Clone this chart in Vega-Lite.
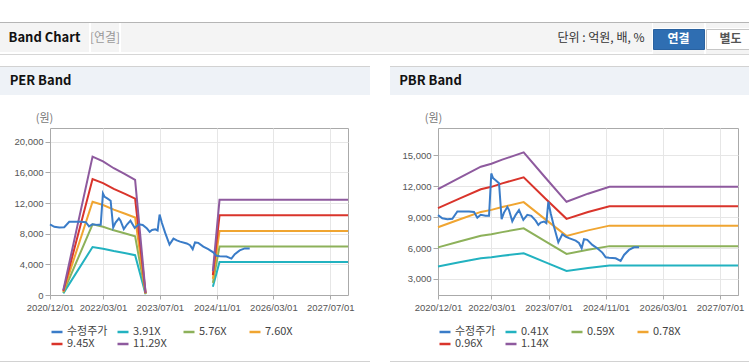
{
  "$schema": "https://vega.github.io/schema/vega-lite/v6.json",
  "padding": {"left": 0, "top": 22, "right": 0, "bottom": 0},
  "background": "#ffffff",
  "config": {
    "view": {"stroke": "#aaaaaa"},
    "axis": {"domainColor": "#aaaaaa", "tickColor": "#aaaaaa", "gridColor": "#e6e6e6", "labelColor": "#555555", "labelFont": "Liberation Sans", "labelFontSize": 9.5}
  },
  "datasets": {
    "price": [
      {"d": "2020-12-01", "v": 9200}, {"d": "2021-01-07", "v": 8900}, {"d": "2021-02-19", "v": 8800}, {"d": "2021-04-02", "v": 8850},
      {"d": "2021-05-15", "v": 9550}, {"d": "2021-06-26", "v": 9550}, {"d": "2021-08-22", "v": 9550}, {"d": "2021-10-04", "v": 9500},
      {"d": "2021-11-01", "v": 8950}, {"d": "2021-11-30", "v": 9230}, {"d": "2022-01-11", "v": 9150}, {"d": "2022-02-09", "v": 9150},
      {"d": "2022-02-28", "v": 13250}, {"d": "2022-03-15", "v": 12800}, {"d": "2022-04-06", "v": 12600}, {"d": "2022-05-05", "v": 12300},
      {"d": "2022-05-27", "v": 8800}, {"d": "2022-06-16", "v": 9450}, {"d": "2022-07-15", "v": 10000}, {"d": "2022-07-29", "v": 9700},
      {"d": "2022-08-26", "v": 8600}, {"d": "2022-09-24", "v": 9230}, {"d": "2022-10-22", "v": 9700}, {"d": "2022-11-28", "v": 8750},
      {"d": "2023-01-01", "v": 9230}, {"d": "2023-02-04", "v": 9130}, {"d": "2023-03-13", "v": 8670}, {"d": "2023-04-05", "v": 8250},
      {"d": "2023-04-25", "v": 8480}, {"d": "2023-05-23", "v": 8580}, {"d": "2023-06-12", "v": 8420}, {"d": "2023-06-29", "v": 10500},
      {"d": "2023-07-19", "v": 9390}, {"d": "2023-08-16", "v": 8100}, {"d": "2023-09-22", "v": 6570}, {"d": "2023-10-26", "v": 7350},
      {"d": "2023-11-24", "v": 7120}, {"d": "2023-12-22", "v": 6960}, {"d": "2024-02-17", "v": 6730}, {"d": "2024-03-16", "v": 6500},
      {"d": "2024-04-08", "v": 5980}, {"d": "2024-04-28", "v": 6860}, {"d": "2024-05-26", "v": 6800}, {"d": "2024-07-08", "v": 6310},
      {"d": "2024-08-19", "v": 5980}, {"d": "2024-10-01", "v": 5560}, {"d": "2024-10-30", "v": 5110}, {"d": "2024-11-27", "v": 5050},
      {"d": "2025-01-23", "v": 5010}, {"d": "2025-03-06", "v": 4750}, {"d": "2025-04-04", "v": 5330}, {"d": "2025-05-16", "v": 5820},
      {"d": "2025-06-28", "v": 6080}, {"d": "2025-08-10", "v": 6080}
    ],
    "per": [
      {"d": "2021-03-25", "s": "3.91X", "g": 1, "v": 215}, {"d": "2021-12-01", "s": "3.91X", "g": 1, "v": 6256}, {"d": "2022-03-01", "s": "3.91X", "g": 1, "v": 6041}, {"d": "2022-06-01", "s": "3.91X", "g": 1, "v": 5728}, {"d": "2022-09-01", "s": "3.91X", "g": 1, "v": 5474}, {"d": "2022-12-01", "s": "3.91X", "g": 1, "v": 5200}, {"d": "2023-03-01", "s": "3.91X", "g": 1, "v": 98},
      {"d": "2024-09-28", "s": "3.91X", "g": 2, "v": 1075}, {"d": "2024-11-24", "s": "3.91X", "g": 2, "v": 4301}, {"d": "2027-12-01", "s": "3.91X", "g": 2, "v": 4301},
      {"d": "2021-03-25", "s": "5.76X", "g": 1, "v": 317}, {"d": "2021-12-01", "s": "5.76X", "g": 1, "v": 9216}, {"d": "2022-03-01", "s": "5.76X", "g": 1, "v": 8899}, {"d": "2022-06-01", "s": "5.76X", "g": 1, "v": 8438}, {"d": "2022-09-01", "s": "5.76X", "g": 1, "v": 8064}, {"d": "2022-12-01", "s": "5.76X", "g": 1, "v": 7661}, {"d": "2023-03-01", "s": "5.76X", "g": 1, "v": 144},
      {"d": "2024-09-28", "s": "5.76X", "g": 2, "v": 1584}, {"d": "2024-11-24", "s": "5.76X", "g": 2, "v": 6336}, {"d": "2027-12-01", "s": "5.76X", "g": 2, "v": 6336},
      {"d": "2021-03-25", "s": "7.60X", "g": 1, "v": 418}, {"d": "2021-12-01", "s": "7.60X", "g": 1, "v": 12160}, {"d": "2022-03-01", "s": "7.60X", "g": 1, "v": 11742}, {"d": "2022-06-01", "s": "7.60X", "g": 1, "v": 11134}, {"d": "2022-09-01", "s": "7.60X", "g": 1, "v": 10640}, {"d": "2022-12-01", "s": "7.60X", "g": 1, "v": 10108}, {"d": "2023-03-01", "s": "7.60X", "g": 1, "v": 190},
      {"d": "2024-09-28", "s": "7.60X", "g": 2, "v": 2090}, {"d": "2024-11-24", "s": "7.60X", "g": 2, "v": 8360}, {"d": "2027-12-01", "s": "7.60X", "g": 2, "v": 8360},
      {"d": "2021-03-25", "s": "9.45X", "g": 1, "v": 520}, {"d": "2021-12-01", "s": "9.45X", "g": 1, "v": 15120}, {"d": "2022-03-01", "s": "9.45X", "g": 1, "v": 14600}, {"d": "2022-06-01", "s": "9.45X", "g": 1, "v": 13844}, {"d": "2022-09-01", "s": "9.45X", "g": 1, "v": 13230}, {"d": "2022-12-01", "s": "9.45X", "g": 1, "v": 12569}, {"d": "2023-03-01", "s": "9.45X", "g": 1, "v": 236},
      {"d": "2024-09-28", "s": "9.45X", "g": 2, "v": 2599}, {"d": "2024-11-24", "s": "9.45X", "g": 2, "v": 10395}, {"d": "2027-12-01", "s": "9.45X", "g": 2, "v": 10395},
      {"d": "2021-03-25", "s": "11.29X", "g": 1, "v": 621}, {"d": "2021-12-01", "s": "11.29X", "g": 1, "v": 18064}, {"d": "2022-03-01", "s": "11.29X", "g": 1, "v": 17443}, {"d": "2022-06-01", "s": "11.29X", "g": 1, "v": 16540}, {"d": "2022-09-01", "s": "11.29X", "g": 1, "v": 15806}, {"d": "2022-12-01", "s": "11.29X", "g": 1, "v": 15016}, {"d": "2023-03-01", "s": "11.29X", "g": 1, "v": 282},
      {"d": "2024-09-28", "s": "11.29X", "g": 2, "v": 3105}, {"d": "2024-11-24", "s": "11.29X", "g": 2, "v": 12419}, {"d": "2027-12-01", "s": "11.29X", "g": 2, "v": 12419}
    ],
    "pbr": [
      {"d": "2020-12-01", "s": "0.41X", "v": 4219}, {"d": "2021-06-01", "s": "0.41X", "v": 4613}, {"d": "2021-12-01", "s": "0.41X", "v": 5002}, {"d": "2022-03-01", "s": "0.41X", "v": 5105}, {"d": "2022-06-01", "s": "0.41X", "v": 5248}, {"d": "2022-12-01", "s": "0.41X", "v": 5502}, {"d": "2023-06-01", "s": "0.41X", "v": 4633}, {"d": "2023-12-01", "s": "0.41X", "v": 3776}, {"d": "2024-06-01", "s": "0.41X", "v": 4059}, {"d": "2024-12-01", "s": "0.41X", "v": 4301}, {"d": "2027-12-01", "s": "0.41X", "v": 4301},
      {"d": "2020-12-01", "s": "0.59X", "v": 6071}, {"d": "2021-06-01", "s": "0.59X", "v": 6638}, {"d": "2021-12-01", "s": "0.59X", "v": 7198}, {"d": "2022-03-01", "s": "0.59X", "v": 7346}, {"d": "2022-06-01", "s": "0.59X", "v": 7552}, {"d": "2022-12-01", "s": "0.59X", "v": 7918}, {"d": "2023-06-01", "s": "0.59X", "v": 6667}, {"d": "2023-12-01", "s": "0.59X", "v": 5434}, {"d": "2024-06-01", "s": "0.59X", "v": 5841}, {"d": "2024-12-01", "s": "0.59X", "v": 6189}, {"d": "2027-12-01", "s": "0.59X", "v": 6189},
      {"d": "2020-12-01", "s": "0.78X", "v": 8026}, {"d": "2021-06-01", "s": "0.78X", "v": 8775}, {"d": "2021-12-01", "s": "0.78X", "v": 9516}, {"d": "2022-03-01", "s": "0.78X", "v": 9711}, {"d": "2022-06-01", "s": "0.78X", "v": 9984}, {"d": "2022-12-01", "s": "0.78X", "v": 10468}, {"d": "2023-06-01", "s": "0.78X", "v": 8814}, {"d": "2023-12-01", "s": "0.78X", "v": 7184}, {"d": "2024-06-01", "s": "0.78X", "v": 7722}, {"d": "2024-12-01", "s": "0.78X", "v": 8182}, {"d": "2027-12-01", "s": "0.78X", "v": 8182},
      {"d": "2020-12-01", "s": "0.96X", "v": 9878}, {"d": "2021-06-01", "s": "0.96X", "v": 10800}, {"d": "2021-12-01", "s": "0.96X", "v": 11712}, {"d": "2022-03-01", "s": "0.96X", "v": 11952}, {"d": "2022-06-01", "s": "0.96X", "v": 12288}, {"d": "2022-12-01", "s": "0.96X", "v": 12883}, {"d": "2023-06-01", "s": "0.96X", "v": 10848}, {"d": "2023-12-01", "s": "0.96X", "v": 8842}, {"d": "2024-06-01", "s": "0.96X", "v": 9504}, {"d": "2024-12-01", "s": "0.96X", "v": 10070}, {"d": "2027-12-01", "s": "0.96X", "v": 10070},
      {"d": "2020-12-01", "s": "1.14X", "v": 11731}, {"d": "2021-06-01", "s": "1.14X", "v": 12825}, {"d": "2021-12-01", "s": "1.14X", "v": 13908}, {"d": "2022-03-01", "s": "1.14X", "v": 14193}, {"d": "2022-06-01", "s": "1.14X", "v": 14592}, {"d": "2022-12-01", "s": "1.14X", "v": 15299}, {"d": "2023-06-01", "s": "1.14X", "v": 12882}, {"d": "2023-12-01", "s": "1.14X", "v": 10499}, {"d": "2024-06-01", "s": "1.14X", "v": 11286}, {"d": "2024-12-01", "s": "1.14X", "v": 11959}, {"d": "2027-12-01", "s": "1.14X", "v": 11959}
    ]
  },
  "spacing": 11,
  "resolve": {"scale": {"color": "independent"}, "legend": {"color": "independent"}},
  "vconcat": [
    {
      "spacing": 0,
      "vconcat": [
        {"width": 749, "height": 1, "view": {"fill": "#b5b5b5", "stroke": null}, "data": {"values": []}, "mark": "text", "encoding": {"text": {"field": "t", "type": "nominal"}}},
        {
          "spacing": 0,
          "hconcat": [
            {"width": 89, "height": 29, "view": {"fill": "#f4f4f4", "stroke": null}, "data": {"values": [{"t": "Band Chart"}]}, "mark": {"type": "text", "font": "Noto Sans CJK KR", "fontSize": 13, "fontWeight": "bold", "color": "#111111"}, "encoding": {"text": {"field": "t", "type": "nominal"}}},
            {"width": 28, "height": 29, "view": {"fill": "#f4f4f4", "stroke": null}, "data": {"values": [{"t": "[연결]"}]}, "mark": {"type": "text", "font": "Noto Sans CJK KR", "fontSize": 12, "color": "#999999"}, "encoding": {"text": {"field": "t", "type": "nominal"}}},
            {"width": 434, "height": 29, "view": {"fill": "#f4f4f4", "stroke": null}, "data": {"values": []}, "mark": "text", "encoding": {"text": {"field": "t", "type": "nominal"}}},
            {"width": 92, "height": 29, "view": {"fill": "#f4f4f4", "stroke": null}, "data": {"values": [{"t": "단위 : 억원, 배, %"}]}, "mark": {"type": "text", "font": "Noto Sans CJK KR", "fontSize": 12, "color": "#333333"}, "encoding": {"text": {"field": "t", "type": "nominal"}}},
            {"width": 5, "height": 29, "view": {"fill": "#f4f4f4", "stroke": null}, "data": {"values": []}, "mark": "text", "encoding": {"text": {"field": "t", "type": "nominal"}}},
            {
              "spacing": 0,
              "vconcat": [
                {"width": 51, "height": 5, "view": {"fill": "#f4f4f4", "stroke": null}, "data": {"values": []}, "mark": "text", "encoding": {"text": {"field": "t", "type": "nominal"}}},
                {"width": 51, "height": 20, "view": {"fill": "#2f6eb2", "stroke": "#2a62a0"}, "data": {"values": [{"t": "연결"}]}, "mark": {"type": "text", "font": "Noto Sans CJK KR", "fontSize": 12, "fontWeight": "bold", "color": "#ffffff"}, "encoding": {"text": {"field": "t", "type": "nominal"}}},
                {"width": 51, "height": 4, "view": {"fill": "#f4f4f4", "stroke": null}, "data": {"values": []}, "mark": "text", "encoding": {"text": {"field": "t", "type": "nominal"}}}
              ]
            },
            {
              "spacing": 0,
              "vconcat": [
                {"width": 50, "height": 5, "view": {"fill": "#f4f4f4", "stroke": null}, "data": {"values": []}, "mark": "text", "encoding": {"text": {"field": "t", "type": "nominal"}}},
                {"width": 49, "height": 20, "view": {"fill": "#ffffff", "stroke": "#c6c6c6"}, "data": {"values": [{"t": "별도"}]}, "mark": {"type": "text", "font": "Noto Sans CJK KR", "fontSize": 12, "fontWeight": "bold", "color": "#555555"}, "encoding": {"text": {"field": "t", "type": "nominal"}}},
                {"width": 50, "height": 4, "view": {"fill": "#f4f4f4", "stroke": null}, "data": {"values": []}, "mark": "text", "encoding": {"text": {"field": "t", "type": "nominal"}}}
              ]
            }
          ]
        },
        {"width": 749, "height": 1, "view": {"fill": "#d6d6d6", "stroke": null}, "data": {"values": []}, "mark": "text", "encoding": {"text": {"field": "t", "type": "nominal"}}}
      ]
    },
    {
      "spacing": 20,
      "resolve": {"scale": {"color": "independent"}, "legend": {"color": "independent"}},
      "hconcat": [
        {
          "spacing": 16,
          "resolve": {"scale": {"color": "independent"}, "legend": {"color": "independent"}},
          "vconcat": [
            {
              "spacing": 0,
              "vconcat": [
                {"width": 370, "height": 1, "view": {"fill": "#d2d2d2", "stroke": null}, "data": {"values": []}, "mark": "text", "encoding": {"text": {"field": "t", "type": "nominal"}}},
                {
                  "spacing": 0,
                  "hconcat": [
                    {"width": 81, "height": 28, "view": {"fill": "#eef2f7", "stroke": null}, "data": {"values": [{"t": "PER Band"}]}, "mark": {"type": "text", "font": "Noto Sans CJK KR", "fontSize": 13, "fontWeight": "bold", "color": "#111111"}, "encoding": {"text": {"field": "t", "type": "nominal"}}},
                    {"width": 289, "height": 28, "view": {"fill": "#eef2f7", "stroke": null}, "data": {"values": []}, "mark": "text", "encoding": {"text": {"field": "t", "type": "nominal"}}}
                  ]
                }
              ]
            },
            {
              "spacing": 11,
              "resolve": {"scale": {"color": "independent"}, "legend": {"color": "independent"}},
              "vconcat": [
                {
                  "spacing": 0,
                  "resolve": {"scale": {"color": "independent"}, "legend": {"color": "independent"}},
                  "hconcat": [
                    {"width": 1, "height": 1, "view": {"fill": null, "stroke": null}, "data": {"values": []}, "mark": "text", "encoding": {"text": {"field": "t", "type": "nominal"}}},
                    {
                      "width": 298,
                      "height": 167,
                      "encoding": {
                        "x": {"field": "d", "type": "temporal",
                          "scale": {"domain": [{"year": 2020, "month": 12, "date": 1}, {"year": 2027, "month": 12, "date": 1}]},
                          "axis": {"title": null, "format": "%Y/%m/%d", "tickSize": 4, "labelPadding": 3, "labelOverlap": false, "labelFlush": false,
                            "values": [{"year": 2020, "month": 12, "date": 1}, {"year": 2022, "month": 3, "date": 1}, {"year": 2023, "month": 7, "date": 1}, {"year": 2024, "month": 11, "date": 1}, {"year": 2026, "month": 3, "date": 1}, {"year": 2027, "month": 7, "date": 1}]}},
                        "y": {"field": "v", "type": "quantitative",
                          "scale": {"domain": [0, 21790], "nice": false, "zero": false},
                          "axis": {"values": [0, 4000, 8000, 12000, 16000, 20000], "format": ",d", "tickSize": 5, "labelPadding": 2, "minExtent": 48, "maxExtent": 48,
                            "title": "(원)", "titleAngle": 0, "titleAlign": "center", "titleBaseline": "middle", "titleX": -6, "titleY": -10, "titleFont": "Noto Sans CJK KR", "titleFontSize": 11, "titleFontWeight": "normal", "titleColor": "#777777"}}
                      },
                      "layer": [
                        {"data": {"name": "per"}, "mark": {"type": "line", "strokeWidth": 2},
                          "encoding": {"color": {"field": "s", "type": "nominal",
                            "scale": {"domain": ["수정주가", "3.91X", "5.76X", "7.60X", "9.45X", "11.29X"], "range": ["#3a7cc8", "#22b2c0", "#8db15a", "#f0a531", "#d9342b", "#8e5a9e"]},
                            "legend": {"orient": "bottom", "offset": 13, "padding": 0, "direction": "horizontal", "columns": 4, "gridAlign": "all", "symbolType": "stroke", "symbolSize": 121, "symbolStrokeWidth": 2.5, "labelFont": "Noto Sans CJK KR", "labelFontSize": 11, "labelColor": "#444444", "labelOffset": 3, "columnPadding": 4, "rowPadding": 0, "title": null}},
                            "detail": {"field": "g"}}},
                        {"data": {"name": "price"}, "mark": {"type": "line", "strokeWidth": 2}, "encoding": {"color": {"datum": "수정주가"}}}
                      ]
                    }
                  ]
                },
                {"width": 370, "height": 1, "view": {"fill": "#d2d2d2", "stroke": null}, "data": {"values": []}, "mark": "text", "encoding": {"text": {"field": "t", "type": "nominal"}}}
              ]
            }
          ]
        },
        {
          "spacing": 16,
          "resolve": {"scale": {"color": "independent"}, "legend": {"color": "independent"}},
          "vconcat": [
            {
              "spacing": 0,
              "vconcat": [
                {"width": 359, "height": 1, "view": {"fill": "#d2d2d2", "stroke": null}, "data": {"values": []}, "mark": "text", "encoding": {"text": {"field": "t", "type": "nominal"}}},
                {
                  "spacing": 0,
                  "hconcat": [
                    {"width": 81, "height": 28, "view": {"fill": "#eef2f7", "stroke": null}, "data": {"values": [{"t": "PBR Band"}]}, "mark": {"type": "text", "font": "Noto Sans CJK KR", "fontSize": 13, "fontWeight": "bold", "color": "#111111"}, "encoding": {"text": {"field": "t", "type": "nominal"}}},
                    {"width": 278, "height": 28, "view": {"fill": "#eef2f7", "stroke": null}, "data": {"values": []}, "mark": "text", "encoding": {"text": {"field": "t", "type": "nominal"}}}
                  ]
                }
              ]
            },
            {
              "spacing": 11,
              "resolve": {"scale": {"color": "independent"}, "legend": {"color": "independent"}},
              "vconcat": [
                {
                  "spacing": 0,
                  "resolve": {"scale": {"color": "independent"}, "legend": {"color": "independent"}},
                  "hconcat": [
                    {"width": 1, "height": 1, "view": {"fill": null, "stroke": null}, "data": {"values": []}, "mark": "text", "encoding": {"text": {"field": "t", "type": "nominal"}}},
                    {
                      "width": 300,
                      "height": 167,
                      "encoding": {
                        "x": {"field": "d", "type": "temporal",
                          "scale": {"domain": [{"year": 2020, "month": 12, "date": 1}, {"year": 2027, "month": 12, "date": 1}]},
                          "axis": {"title": null, "format": "%Y/%m/%d", "tickSize": 4, "labelPadding": 3, "labelOverlap": false, "labelFlush": false,
                            "values": [{"year": 2020, "month": 12, "date": 1}, {"year": 2022, "month": 3, "date": 1}, {"year": 2023, "month": 7, "date": 1}, {"year": 2024, "month": 11, "date": 1}, {"year": 2026, "month": 3, "date": 1}, {"year": 2027, "month": 7, "date": 1}]}},
                        "y": {"field": "v", "type": "quantitative",
                          "scale": {"domain": [1440, 17670], "nice": false, "zero": false},
                          "axis": {"values": [3000, 6000, 9000, 12000, 15000], "format": ",d", "tickSize": 5, "labelPadding": 2, "minExtent": 46, "maxExtent": 46,
                            "title": "(원)", "titleAngle": 0, "titleAlign": "center", "titleBaseline": "middle", "titleX": -5, "titleY": -10, "titleFont": "Noto Sans CJK KR", "titleFontSize": 11, "titleFontWeight": "normal", "titleColor": "#777777"}}
                      },
                      "layer": [
                        {"data": {"name": "pbr"}, "mark": {"type": "line", "strokeWidth": 2},
                          "encoding": {"color": {"field": "s", "type": "nominal",
                            "scale": {"domain": ["수정주가", "0.41X", "0.59X", "0.78X", "0.96X", "1.14X"], "range": ["#3a7cc8", "#22b2c0", "#8db15a", "#f0a531", "#d9342b", "#8e5a9e"]},
                            "legend": {"orient": "bottom", "offset": 13, "padding": 0, "direction": "horizontal", "columns": 4, "gridAlign": "all", "symbolType": "stroke", "symbolSize": 121, "symbolStrokeWidth": 2.5, "labelFont": "Noto Sans CJK KR", "labelFontSize": 11, "labelColor": "#444444", "labelOffset": 3, "columnPadding": 4, "rowPadding": 0, "title": null}}}},
                        {"data": {"name": "price"}, "mark": {"type": "line", "strokeWidth": 2}, "encoding": {"color": {"datum": "수정주가"}}}
                      ]
                    }
                  ]
                },
                {"width": 359, "height": 1, "view": {"fill": "#d2d2d2", "stroke": null}, "data": {"values": []}, "mark": "text", "encoding": {"text": {"field": "t", "type": "nominal"}}}
              ]
            }
          ]
        }
      ]
    }
  ]
}
